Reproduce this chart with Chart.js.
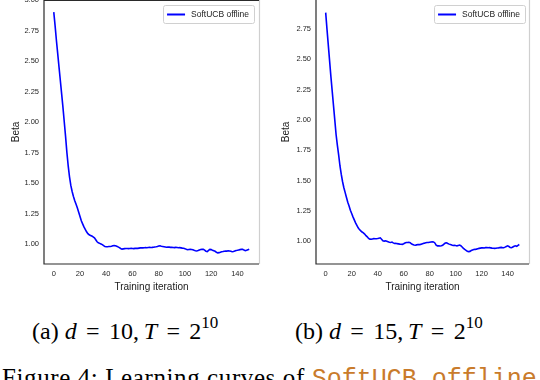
<!DOCTYPE html>
<html>
<head>
<meta charset="utf-8">
<script src="https://cdn.jsdelivr.net/npm/chart.js@4.4.1/dist/chart.umd.min.js"></script>
<style>
    html, body { margin: 0; padding: 0; background: #fff; }
    body { width: 540px; height: 380px; position: relative; overflow: hidden; }
    canvas { position: absolute; }
    #chartA { left: 0; top: -10px; }
    #chartB { left: 270px; top: -10px; }
    .cap {
        position: absolute;
        font-family: "Liberation Serif", "Times New Roman", serif;
        font-size: 24px;
        line-height: 24px;
        white-space: nowrap;
        color: #000;
    }
    .cap i { font-style: italic; }
    .cap .eq { margin: 0 0.14em; }
    .cap sup { font-size: 17px; line-height: 0; position: relative; top: -2px; }
    .fig { font-size: 25px; line-height: 25px; letter-spacing: 0.6px; }
    .tt { font-family: "Liberation Mono", "DejaVu Sans Mono", monospace; color: #c97b2b; letter-spacing: 0; }
</style>
</head>
<body>
<canvas id="chartA" width="270" height="310"></canvas>
<canvas id="chartB" width="270" height="310"></canvas>
<div class="cap" style="left:32px; top:319px;">(a) <i>d</i> <span class="eq">=</span> 10,&thinsp;<i>T</i> <span class="eq">=</span> 2<sup>10</sup></div>
<div class="cap" style="left:295px; top:319px;">(b) <i>d</i> <span class="eq">=</span> 15,&thinsp;<i>T</i> <span class="eq">=</span> 2<sup>10</sup></div>
<div class="cap fig" style="left:2px; top:365px;">Figure 4: Learning curves of <span class="tt">SoftUCB_offline</span></div>

<script>
const iterations = Array.from({ length: 150 }, (_, i) => i);
const xTicks = [0, 20, 40, 60, 80, 100, 120, 140];
const seriesLabel = 'SoftUCB offline';

// (a) d = 10
const betaD10 = [
    2.90, 2.79, 2.67, 2.56, 2.45, 2.34, 2.23, 2.12, 2.00, 1.88,
    1.75, 1.64, 1.55, 1.48, 1.43, 1.39, 1.355, 1.325, 1.295, 1.26,
    1.225, 1.19, 1.165, 1.14, 1.12, 1.10, 1.085, 1.075, 1.07, 1.065,
    1.058, 1.05, 1.035, 1.018, 1.01, 1.005, 1.00, 0.995, 0.987, 0.98,
    0.978, 0.978, 0.979, 0.98, 0.982, 0.986, 0.988, 0.986, 0.982, 0.976,
    0.970, 0.963, 0.958, 0.960, 0.962, 0.963, 0.963, 0.962, 0.963, 0.964,
    0.963, 0.962, 0.964, 0.965, 0.964, 0.966, 0.968, 0.969, 0.968, 0.969,
    0.970, 0.969, 0.971, 0.972, 0.971, 0.972, 0.974, 0.976, 0.977, 0.979,
    0.983, 0.985, 0.982, 0.980, 0.978, 0.976, 0.973, 0.975, 0.974, 0.972,
    0.973, 0.971, 0.970, 0.972, 0.971, 0.969, 0.970, 0.968, 0.966, 0.965,
    0.962, 0.956, 0.953, 0.955, 0.957, 0.955, 0.952, 0.948, 0.945, 0.943,
    0.946, 0.951, 0.955, 0.957, 0.956, 0.950, 0.941, 0.938, 0.948, 0.956,
    0.954, 0.948, 0.944, 0.940, 0.932, 0.927, 0.929, 0.933, 0.936, 0.938,
    0.941, 0.943, 0.942, 0.944, 0.943, 0.940, 0.937, 0.938, 0.942, 0.946,
    0.948, 0.951, 0.954, 0.957, 0.956, 0.950, 0.945, 0.948, 0.953, 0.957
];

// (b) d = 15
const betaD15 = [
    2.886, 2.75, 2.62, 2.49, 2.36, 2.24, 2.12, 2.00, 1.88, 1.79,
    1.71, 1.62, 1.55, 1.49, 1.44, 1.40, 1.36, 1.32, 1.29, 1.255,
    1.228, 1.20, 1.175, 1.15, 1.13, 1.11, 1.095, 1.085, 1.075, 1.068,
    1.058, 1.045, 1.035, 1.022, 1.015, 1.016, 1.018, 1.02, 1.019, 1.02,
    1.021, 1.024, 1.027, 1.015, 1.003, 1.00, 1.002, 0.998, 0.994, 0.99,
    0.989, 0.992, 0.985, 0.98, 0.982, 0.979, 0.977, 0.975, 0.974, 0.973,
    0.978, 0.984, 0.988, 0.989, 0.99, 0.987, 0.978, 0.971, 0.968, 0.966,
    0.969, 0.972, 0.971, 0.973, 0.977, 0.981, 0.983, 0.986, 0.988, 0.989,
    0.991, 0.993, 0.994, 0.993, 0.985, 0.966, 0.961, 0.962, 0.960, 0.962,
    0.966, 0.975, 0.984, 0.986, 0.980, 0.975, 0.971, 0.967, 0.964, 0.966,
    0.963, 0.961, 0.964, 0.967, 0.962, 0.951, 0.940, 0.931, 0.924, 0.917,
    0.913, 0.915, 0.922, 0.926, 0.930, 0.932, 0.934, 0.937, 0.940, 0.942,
    0.944, 0.945, 0.943, 0.946, 0.947, 0.945, 0.946, 0.944, 0.942, 0.941,
    0.940, 0.941, 0.943, 0.944, 0.946, 0.948, 0.946, 0.945, 0.950, 0.956,
    0.961, 0.955, 0.948, 0.945, 0.951, 0.957, 0.961, 0.956, 0.965, 0.972
];

const tickFont = { family: '"Liberation Sans", Arial, sans-serif', size: 7.5 };
const titleFont = { family: '"Liberation Sans", Arial, sans-serif', size: 10 };

// spines: dark left/bottom/top, light right, like the seaborn-ish original
const framePlugin = {
    id: 'frame',
    afterDatasetsDraw(chart, args, opts) {
        const { ctx, chartArea: a } = chart;
        ctx.save();
        ctx.lineWidth = 1.2;
        ctx.strokeStyle = '#cfcfcf';
        ctx.beginPath();
        ctx.moveTo(a.right + 0.5, a.top);
        ctx.lineTo(a.right + 0.5, a.bottom);
        ctx.stroke();
        ctx.strokeStyle = '#2a2a2a';
        ctx.beginPath();
        ctx.moveTo(a.left, a.top);
        ctx.lineTo(a.left, a.bottom);
        ctx.lineTo(a.right, a.bottom);
        if (opts.top) {
            ctx.moveTo(a.left, a.top + 0.5);
            ctx.lineTo(a.right, a.top + 0.5);
        }
        ctx.stroke();
        ctx.restore();
    }
};

// small boxed legend in the upper right corner
const boxLegend = {
    id: 'boxLegend',
    afterDraw(chart, args, opts) {
        const { ctx, chartArea: a } = chart;
        const ds = chart.data.datasets[0];
        ctx.save();
        ctx.font = '8.5px "Liberation Sans", Arial, sans-serif';
        const tw = ctx.measureText(ds.label).width;
        const w = 4 + 18 + 6 + tw + 5;
        const h = 18;
        const x = a.right - opts.right - w;
        const y = a.top + opts.top;
        ctx.fillStyle = 'rgba(255,255,255,0.85)';
        ctx.strokeStyle = '#d0d0d0';
        ctx.lineWidth = 1;
        ctx.beginPath();
        ctx.roundRect(x + 0.5, y + 0.5, w, h, 2);
        ctx.fill();
        ctx.stroke();
        ctx.strokeStyle = ds.borderColor;
        ctx.lineWidth = 2;
        ctx.beginPath();
        ctx.moveTo(x + 4, y + h / 2 + 0.5);
        ctx.lineTo(x + 22, y + h / 2 + 0.5);
        ctx.stroke();
        ctx.fillStyle = '#222';
        ctx.textBaseline = 'middle';
        ctx.fillText(ds.label, x + 28, y + h / 2 + 1);
        ctx.restore();
    }
};

function makeChart(id, values, yMin, yMax, yAxisWidth, padTop, legendPos, drawTop) {
    const ctx = document.getElementById(id).getContext('2d');
    return new Chart(ctx, {
        type: 'line',
        data: {
            datasets: [{
                label: seriesLabel,
                data: values.map((v, i) => ({ x: iterations[i], y: v })),
                borderColor: '#0000ff',
                backgroundColor: '#0000ff',
                borderWidth: 1.6,
                pointRadius: 0,
                tension: 0,
                fill: false
            }]
        },
        options: {
            responsive: false,
            animation: false,
            layout: { padding: { top: padTop, right: 11, left: 0, bottom: 0 } },
            plugins: {
                legend: { display: false },
                tooltip: { enabled: false },
                frame: { top: drawTop },
                boxLegend: legendPos
            },
            scales: {
                x: {
                    type: 'linear',
                    min: -7.45,
                    max: 156.45,
                    grid: { display: false, drawTicks: false },
                    border: { display: false },
                    afterFit: (scale) => { scale.height = 310 - padTop - 264; },
                    afterBuildTicks: (scale) => { scale.ticks = xTicks.map(v => ({ value: v })); },
                    ticks: { font: tickFont, color: '#262626', padding: 5, maxRotation: 0,
                             callback: (v) => String(v) },
                    title: { display: true, text: 'Training iteration', font: titleFont,
                             color: '#1a1a1a', padding: { top: 0, bottom: 7 } }
                },
                y: {
                    min: yMin,
                    max: yMax,
                    grid: { display: false, drawTicks: false },
                    border: { display: false },
                    afterFit: (scale) => { scale.width = yAxisWidth; },
                    ticks: { font: tickFont, color: '#262626', padding: 5, stepSize: 0.25,
                             includeBounds: false, callback: (v) => v.toFixed(2) },
                    title: { display: true, text: 'Beta', font: titleFont,
                             color: '#1a1a1a', padding: { top: 10, bottom: 0 } }
                }
            }
        },
        plugins: [framePlugin, boxLegend]
    });
}

makeChart('chartA', betaD10, 0.836, 3.0, 44, 10, { right: 5, top: 5 }, true);
makeChart('chartB', betaD15, 0.811, 2.99, 46, 10, { right: 4, top: 5 }, false);
</script>
</body>
</html>
